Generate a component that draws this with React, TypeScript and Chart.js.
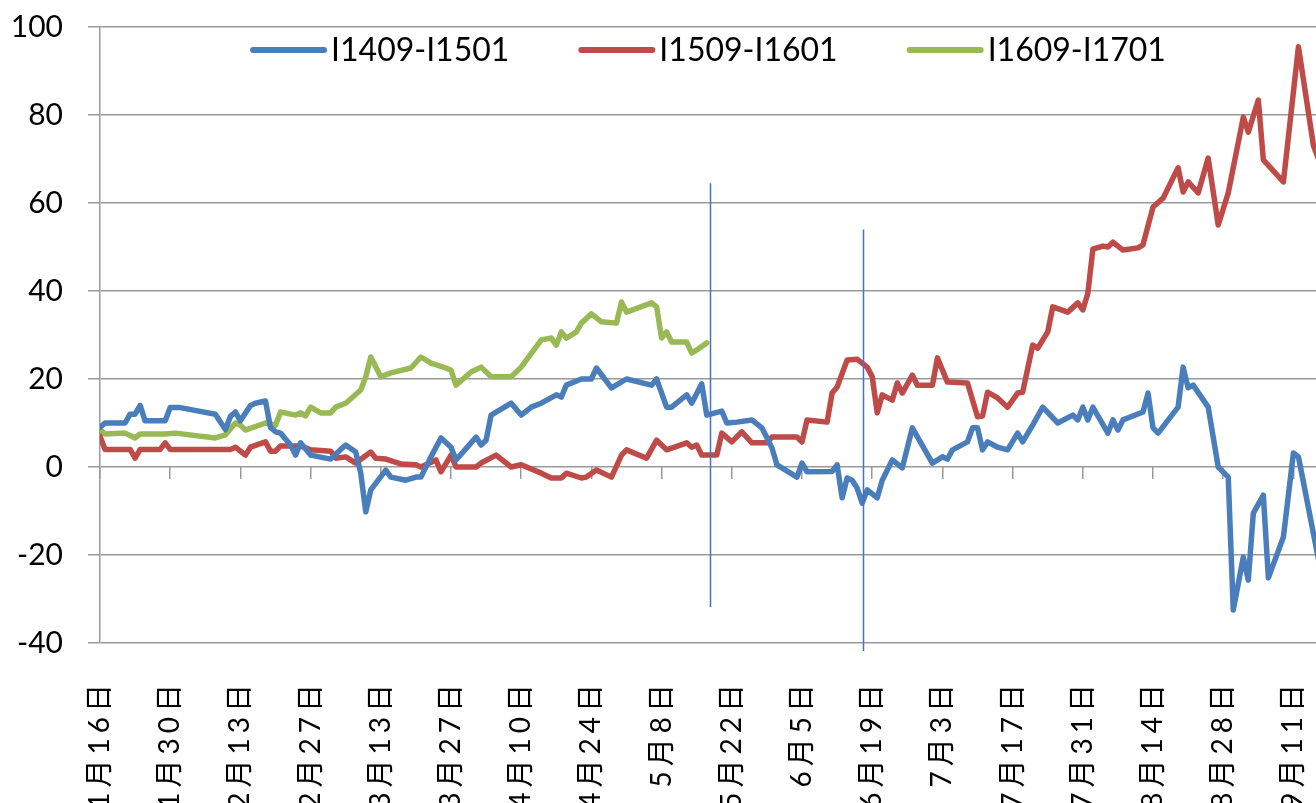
import React, { useEffect, useRef } from 'react';
import { Chart, registerables } from 'chart.js';

Chart.register(...registerables);

// X axis: day offsets from 1月16日, tick every 14 days
const tickDays = [0, 14, 28, 42, 56, 70, 84, 98, 112, 126, 140, 154, 168, 182, 196, 210, 224, 238];
const tickLabels = ['1月16日', '1月30日', '2月13日', '2月27日', '3月13日', '3月27日', '4月10日', '4月24日', '5月8日', '5月22日', '6月5日', '6月19日', '7月3日', '7月17日', '7月31日', '8月14日', '8月28日', '9月11日'];

const seriesNames = ['I1409-I1501', 'I1509-I1601', 'I1609-I1701'];

const blueDays = [0, 1, 5, 6, 7, 8, 9, 13, 14, 16, 23, 25, 26, 27, 28, 30, 31, 33, 34, 35, 36, 38, 39, 40, 42, 46, 48, 49, 51, 52, 53, 54, 57, 58, 61, 63, 64, 66, 68, 70, 71, 75, 76, 77, 78, 82, 84, 86, 88, 91, 92, 93, 96, 98, 99, 102, 105, 110, 111, 113, 114, 117, 118, 120, 121, 124, 125, 127, 130, 132, 134, 135, 139, 140, 141, 146, 147, 148, 149, 150, 151, 152, 153, 155, 156, 158, 160, 162, 166, 168, 169, 170, 173, 174, 175, 176, 177, 179, 181, 183, 184, 186, 188, 191, 194, 195, 196, 197, 198, 201, 202, 203, 204, 208, 209, 210, 211, 215, 216, 217, 218, 221, 223, 225, 226, 228, 229, 230, 232, 233, 236, 238, 239, 243];
const blueValues = [9, 10, 10, 12, 12, 14, 10.5, 10.5, 13.5, 13.5, 12, 8.5, 11.5, 12.5, 10.5, 14, 14.5, 15, 9, 8, 7.7, 5, 2.7, 5.5, 2.7, 1.8, 4, 5, 3.4, -1.4, -10.2, -5.2, -0.7, -2.3, -3, -2.3, -2.3, 2.3, 6.6, 4.5, 1.6, 6.8, 5, 6.1, 11.8, 14.5, 11.8, 13.6, 14.5, 16.4, 15.9, 18.6, 20, 20, 22.5, 18, 20, 18.6, 20, 13.6, 13.6, 16.4, 14.5, 18.9, 11.8, 12.7, 10, 10.2, 10.7, 8.9, 4.3, 0.5, -2.3, 0.9, -1.1, -1, 0.5, -7, -2.5, -3, -4.8, -8.2, -5.2, -7, -3, 1.6, -0.2, 8.9, 0.9, 2.3, 1.8, 3.9, 5.7, 8.9, 8.9, 3.9, 5.7, 4.5, 3.9, 7.7, 5.7, 9.5, 13.6, 10, 11.8, 10.7, 13.6, 10.7, 13.6, 7.7, 10.7, 8.4, 10.7, 12.5, 16.8, 8.9, 7.7, 13.6, 22.7, 18, 18.6, 13.6, 0, -2.3, -32.5, -20.5, -25.7, -10.5, -6.4, -25.2, -15.9, 3.2, 2.3, -21];

const redDays = [0, 1, 6, 7, 8, 12, 13, 14, 26, 27, 29, 30, 33, 34, 35, 36, 40, 42, 46, 47, 49, 51, 54, 55, 57, 60, 63, 64, 67, 68, 70, 71, 75, 76, 79, 82, 84, 88, 90, 92, 93, 96, 97, 99, 102, 104, 105, 109, 111, 113, 117, 118, 119, 120, 123, 124, 126, 128, 130, 133, 134, 139, 140, 141, 145, 146, 147, 149, 151, 153, 154, 155, 156, 158, 159, 160, 162, 163, 166, 167, 169, 173, 175, 176, 177, 179, 181, 183, 184, 186, 187, 189, 190, 193, 195, 196, 197, 198, 200, 201, 202, 204, 207, 208, 210, 212, 215, 216, 217, 219, 221, 223, 225, 228, 229, 231, 232, 236, 239, 242, 243];
const redValues = [7, 4, 4, 2, 4, 4, 5.5, 4, 4, 4.5, 2.7, 4.5, 5.7, 3.6, 3.6, 4.8, 4.8, 3.9, 3.6, 2, 2.3, 0.9, 3.4, 2, 1.8, 0.7, 0.5, 0, 1.6, -1.1, 2.7, 0, 0, 0.9, 2.7, 0, 0.5, -1.4, -2.5, -2.5, -1.4, -2.5, -2.3, -0.7, -2.3, 2.7, 3.9, 2, 6.1, 3.9, 5.5, 4.5, 5, 2.7, 2.7, 7.7, 5.7, 8, 5.5, 5.5, 6.8, 6.8, 5.7, 10.7, 10.2, 16.8, 18.2, 24.3, 24.5, 22.7, 20.5, 12.3, 16.4, 15.2, 19.1, 16.8, 20.9, 18.6, 18.6, 24.8, 19.3, 19.1, 11.4, 11.6, 17, 15.7, 13.6, 16.8, 17, 27.7, 27, 30.7, 36.4, 35.2, 37.3, 35.7, 39.5, 49.5, 50.2, 50, 51.1, 49.3, 49.8, 50.5, 59.1, 61.1, 68, 62.5, 64.8, 62.3, 70.2, 55, 62.3, 79.5, 76.1, 83.4, 69.8, 64.8, 95.5, 73, 70];

const greenDays = [0, 1, 5, 7, 8, 13, 15, 23, 25, 27, 28, 29, 33, 35, 36, 39, 40, 41, 42, 44, 46, 47, 49, 52, 53, 54, 56, 58, 62, 64, 66, 69, 70, 71, 74, 76, 78, 82, 84, 88, 90, 91, 92, 93, 95, 96, 98, 100, 103, 104, 105, 110, 111, 112, 113, 114, 117, 118, 119, 121];
const greenValues = [8.5, 7.5, 7.7, 6.6, 7.5, 7.5, 7.7, 6.6, 7.3, 10, 9.5, 8.4, 10, 9.5, 12.5, 11.8, 12.3, 11.6, 13.6, 12.3, 12.3, 13.6, 14.5, 17.5, 20.5, 25, 20.5, 21.4, 22.5, 25, 23.6, 22.5, 22, 18.6, 21.6, 22.7, 20.5, 20.5, 22.7, 28.9, 29.3, 27.7, 30.7, 29.3, 30.7, 32.7, 34.8, 33, 32.7, 37.5, 35.2, 37.3, 36.4, 29.3, 30.7, 28.4, 28.4, 25.9, 26.6, 28.2];

// Two hand-drawn vertical marker lines (day, top value, bottom value)
const markerDays = [121.6, 152.2];
const markerTops = [64.5, 54];
const markerBottoms = [-31.8, -41.8];

const COLORS = ['#4A7EBB', '#BE4B48', '#98B954'];
const GRID = '#9a9a9a';
const MARKER = '#4472C4';

const toPoints = (days: number[], vals: number[]) => days.map((d, i) => ({ x: d, y: vals[i] }));

const legendPlugin = {
  id: 'inlineLegend',
  afterDraw(chart: any) {
    const { ctx, chartArea } = chart;
    ctx.save();
    ctx.font = '32px Lato';
    const sample = 77, gap = 4, itemGap = 69;
    const items = chart.data.datasets.map((ds: any) => ({
      label: ds.label,
      color: ds.borderColor,
      w: ctx.measureText(ds.label).width,
    }));
    const total = items.reduce((s: number, it: any) => s + sample + gap + it.w, 0) + itemGap * (items.length - 1);
    let x = (chartArea.left + chartArea.right) / 2 - total / 2;
    const y = chartArea.top + 23;
    for (const it of items) {
      ctx.strokeStyle = it.color;
      ctx.lineWidth = 6;
      ctx.lineCap = 'round';
      ctx.beginPath();
      ctx.moveTo(x + 3, y);
      ctx.lineTo(x + sample - 3, y);
      ctx.stroke();
      ctx.fillStyle = '#000';
      ctx.textAlign = 'left';
      ctx.textBaseline = 'middle';
      ctx.fillText(it.label, x + sample + gap, y + 1);
      x += sample + gap + it.w + itemGap;
    }
    ctx.restore();
  },
};

const xLabelPlugin = {
  id: 'xLabels',
  afterDraw(chart: any) {
    const { ctx } = chart;
    const xs = chart.scales.x;
    const top = 684;
    const spacing = 5;
    ctx.save();
    ctx.font = '28px Lato, "Noto Sans CJK SC"';
    ctx.fillStyle = '#000';
    ctx.textAlign = 'right';
    ctx.textBaseline = 'middle';
    (ctx as any).letterSpacing = spacing + 'px';
    xs.ticks.forEach((t: any, i: number) => {
      const px = xs.getPixelForValue(t.value);
      ctx.save();
      ctx.translate(px, top);
      ctx.rotate(-Math.PI / 2);
      ctx.fillText(tickLabels[i], spacing, 0);
      ctx.restore();
    });
    ctx.restore();
  },
};

const markerPlugin = {
  id: 'markers',
  afterDraw(chart: any) {
    const { ctx } = chart;
    const xs = chart.scales.x;
    const ys = chart.scales.y;
    ctx.save();
    ctx.strokeStyle = MARKER;
    ctx.lineWidth = 1.5;
    markerDays.forEach((d, i) => {
      const px = Math.round(xs.getPixelForValue(d)) + 0.5;
      ctx.beginPath();
      ctx.moveTo(px, ys.getPixelForValue(markerTops[i]));
      ctx.lineTo(px, ys.getPixelForValue(markerBottoms[i]));
      ctx.stroke();
    });
    ctx.restore();
  },
};

export default function App() {
  const canvasRef = useRef<HTMLCanvasElement | null>(null);

  useEffect(() => {
    if (!canvasRef.current) return;
    const mk = (i: number, days: number[], vals: number[]) => ({
      label: seriesNames[i],
      data: toPoints(days, vals),
      borderColor: COLORS[i],
      backgroundColor: COLORS[i],
      borderWidth: 5.5,
      pointRadius: 0,
      tension: 0,
      borderJoinStyle: 'round' as const,
      borderCapStyle: 'round' as const,
    });
    const chart = new Chart(canvasRef.current, {
      type: 'line',
      data: {
        datasets: [
          mk(0, blueDays, blueValues),
          mk(1, redDays, redValues),
          mk(2, greenDays, greenValues),
        ],
      },
      options: {
        animation: false,
        responsive: false,
        events: [],
        layout: { padding: { top: 27, left: 0, right: 0, bottom: 160 } },
        plugins: {
          legend: { display: false },
          tooltip: { enabled: false },
          title: { display: false },
        },
        scales: {
          x: {
            type: 'linear',
            min: 0,
            max: 242.5,
            position: { y: 0 } as any,
            afterBuildTicks: (s: any) => {
              s.ticks = tickDays.map((v) => ({ value: v }));
            },
            ticks: { display: false },
            grid: { drawOnChartArea: false, drawTicks: true, tickLength: 12, color: GRID, lineWidth: 1.5 },
            border: { display: false },
          },
          y: {
            type: 'linear',
            min: -40,
            max: 100,
            afterFit: (s: any) => {
              s.width = 100;
              s.paddingTop = 0;
              s.paddingBottom = 0;
            },
            ticks: { stepSize: 20, padding: 25, color: '#000', font: { family: 'Lato', size: 30 } },
            grid: { color: GRID, lineWidth: 1.5, tickLength: 12, drawTicks: true },
            border: { display: true, color: GRID, width: 1.5 },
          },
        },
      },
      plugins: [markerPlugin, legendPlugin, xLabelPlugin],
    });
    return () => chart.destroy();
  }, []);

  return (
    <div style={{ position: 'fixed', left: 0, top: 0, width: 1316, height: 803, background: '#fff' }}>
      <canvas ref={canvasRef} width={1316} height={803} style={{ display: 'block' }} />
    </div>
  );
}
